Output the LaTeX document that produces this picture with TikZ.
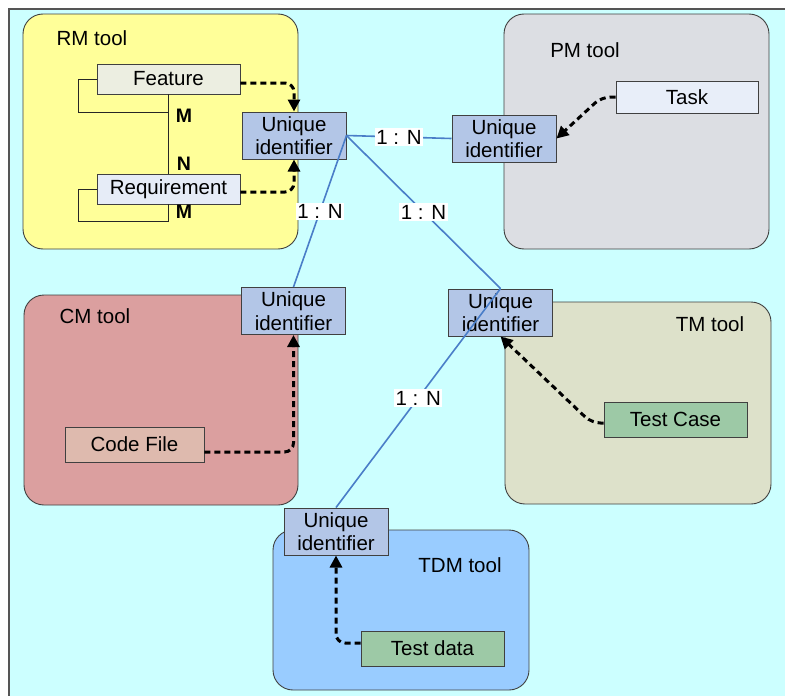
\documentclass[tikz,border=0pt]{standalone}
\usepackage{fontspec}
\setmainfont{Liberation Sans}
\usetikzlibrary{arrows.meta}

\definecolor{bgcyan}{HTML}{CCFFFF}
\definecolor{frame}{HTML}{555555}
\definecolor{edge}{HTML}{404040}
\definecolor{rmfill}{HTML}{FFFF99}
\definecolor{pmfill}{HTML}{DCDEE3}
\definecolor{cmfill}{HTML}{DB9F9F}
\definecolor{tmfill}{HTML}{DDE1CA}
\definecolor{tdmfill}{HTML}{99CCFF}
\definecolor{uidfill}{HTML}{B3C6E7}
\definecolor{featfill}{HTML}{ECEEE1}
\definecolor{reqfill}{HTML}{E6ECF7}
\definecolor{taskfill}{HTML}{E8EEF9}
\definecolor{codefill}{HTML}{DEBAAE}
\definecolor{testfill}{HTML}{9DC9A6}
\definecolor{linkblue}{HTML}{4A7EC8}

\tikzset{
  every node/.style={font=\fontsize{20.5}{23.5}\selectfont, text=black},
  toolbox/.style={draw=edge, line width=0.9pt, rounded corners=20pt},
  toollabel/.style={inner sep=0pt},
  uid/.style={draw=edge, fill=uidfill, line width=1pt, minimum width=104pt,
    minimum height=47pt, inner sep=0pt, align=center},
  item/.style={draw=edge, line width=0.9pt, minimum width=143pt,
    minimum height=30pt, inner sep=0pt},
  link/.style={draw=linkblue, line width=1.6pt},
  ratio/.style={fill=white, inner sep=1.5pt, midway},
  rel/.style={draw=black!85, line width=0.9pt},
  rellabel/.style={font=\fontsize{19.5}{21}\selectfont\bfseries, inner sep=0pt},
  dasharrow/.style={draw=black, line width=3pt, dash pattern=on 6pt off 4pt,
    rounded corners=9pt, -{Triangle[length=12pt,width=12pt]}}
}

\begin{document}
\begin{tikzpicture}[x=1pt,y=-1pt]
\path[use as bounding box] (0,0) rectangle (785,696);
\clip (0,0) rectangle (785,696);
\fill[white] (0,0) rectangle (785,696);
\filldraw[fill=bgcyan, draw=frame, line width=2pt] (9,9) rectangle (800,712);

% tool areas
\draw[toolbox, fill=rmfill]  (23,14)  rectangle (298,249);
\draw[toolbox, fill=pmfill]  (504,14) rectangle (769,249);
\draw[toolbox, fill=cmfill]  (24,295) rectangle (298,505);
\draw[toolbox, fill=tmfill]  (505,302) rectangle (771,504);
\draw[toolbox, fill=tdmfill] (273,530) rectangle (529,690);

\node[toollabel] (rmlabel)  at (92,38)   {RM tool};
\node[toollabel] (pmlabel)  at (585,50)  {PM tool};
\node[toollabel] (cmlabel)  at (95,316)  {CM tool};
\node[toollabel] (tmlabel)  at (710,324) {TM tool};
\node[toollabel] (tdmlabel) at (460,565) {TDM tool};

% artefacts
\node[item, fill=featfill] (feature) at (168.5,79)  {Feature};
\node[item, fill=reqfill]  (req)     at (168.5,189) {Requirement};
\node[item, fill=taskfill, minimum width=142pt, minimum height=32pt] (task) at (687,97) {Task};
\node[item, fill=codefill, minimum width=139pt, minimum height=35pt] (code) at (134.5,444.5) {Code File};
\node[item, fill=testfill, minimum height=35pt] (testcase) at (675.5,419.5) {Test Case};
\node[item, fill=testfill, minimum height=35pt] (testdata) at (432.5,648.5) {Test data};

% feature / requirement relations
\draw[rel] (feature.south) -- (req.north);
\draw[rel] (feature.west) -- ++(-18,0) |- ([yshift=-18pt]feature.south);
\draw[rel] (req.west) -- ++(-18,0) |- ([yshift=-17pt]req.south) -- (req.south);
\node[rellabel] (m1) at (184,115.5) {M};
\node[rellabel] (n1) at (184,163.5) {N};
\node[rellabel] (m2) at (184,212)   {M};

% identifiers
\node[uid] (rmuid)  at (294,135.5) {Unique\\identifier};
\node[uid] (pmuid)  at (504,138.5) {Unique\\identifier};
\node[uid] (cmuid)  at (293.5,311) {Unique\\identifier};
\node[uid] (tmuid)  at (500.5,312.5) {Unique\\identifier};
\node[uid] (tdmuid) at (336,531.5) {Unique\\identifier};

% artefact to identifier
\draw[dasharrow] ([yshift=-4pt]feature.east) -| (rmuid.north);
\draw[dasharrow] ([yshift=-3pt]req.east) -| (rmuid.south);
\draw[dasharrow] (task.west) -- ++(-14,0) -- (pmuid.east);
\draw[dasharrow] ([yshift=-7.5pt]code.east) -| (cmuid.south);
\draw[dasharrow] ([yshift=-3.5pt]testcase.west) -- ++(-12,0) -- (tmuid.south);
\draw[dasharrow] ([yshift=5.5pt]testdata.west) -| (tdmuid.south);

% links between identifiers
\draw[link] (rmuid.east) -- node[ratio] (r1) {1 : N} (pmuid.west);
\draw[link] (rmuid.east) -- node[ratio] (r2) {1 : N} (tmuid.north);
\draw[link] (rmuid.east) -- node[ratio] (r3) {1 : N} (cmuid.north);
\draw[link] (tmuid.north) -- node[ratio] (r4) {1 : N} (tdmuid.north);
\end{tikzpicture}
\end{document}
